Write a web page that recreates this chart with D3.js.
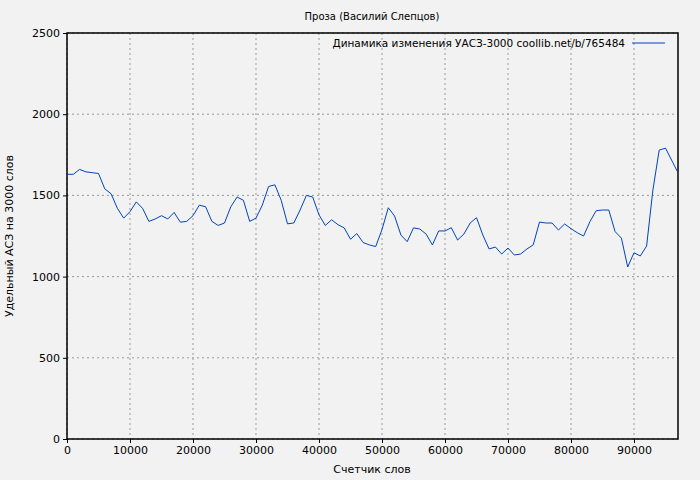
<!DOCTYPE html><html><head><meta charset="utf-8"><script src="https://cdn.jsdelivr.net/npm/d3@7"></script>
<style>body{margin:0;background:#fff}text{font-family:"DejaVu Sans",sans-serif}</style></head><body><svg id="c" width="700" height="480"></svg>
<script>
const xs=[0,1000,2000,3000,4000,5000,6000,7000,8000,9000,10000,11000,12000,13000,14000,15000,16000,17000,18000,19000,20000,21000,22000,23000,24000,25000,26000,27000,28000,29000,30000,31000,32000,33000,34000,35000,36000,37000,38000,39000,40000,41000,42000,43000,44000,45000,46000,47000,48000,49000,50000,51000,52000,53000,54000,55000,56000,57000,58000,59000,60000,61000,62000,63000,64000,65000,66000,67000,68000,69000,70000,71000,72000,73000,74000,75000,76000,77000,78000,79000,80000,81000,82000,83000,84000,85000,86000,87000,88000,89000,90000,91000,92000,93000,94000,95000,96900];
const vals=[1630,1630,1660,1645,1640,1635,1540,1510,1420,1360,1400,1460,1420,1340,1355,1375,1355,1395,1335,1340,1375,1440,1430,1340,1315,1330,1430,1490,1470,1340,1360,1440,1555,1565,1470,1325,1330,1410,1500,1490,1380,1315,1350,1320,1300,1230,1265,1210,1195,1185,1290,1424,1373,1256,1215,1300,1293,1262,1195,1281,1281,1301,1225,1262,1330,1363,1256,1170,1182,1139,1176,1133,1139,1170,1195,1336,1330,1330,1287,1324,1295,1270,1250,1338,1406,1410,1410,1277,1237,1059,1147,1127,1188,1533,1779,1791,1646];
const xTicks=[0,10000,20000,30000,40000,50000,60000,70000,80000,90000];
const yTicks=[0,500,1000,1500,2000,2500];
const svg=d3.select("#c");
const L=67,R=678,T=33,B=439;
svg.append("rect").attr("width",700).attr("height",480).attr("fill","#f2f2f2");
const x=d3.scaleLinear().domain([0,96984]).range([L,R]);
const y=d3.scaleLinear().domain([0,2500]).range([B,T]);
const g=svg.append("g");
xTicks.forEach(t=>g.append("line").attr("x1",x(t)).attr("x2",x(t)).attr("y1",T).attr("y2",B).attr("stroke","#999").attr("stroke-dasharray","2,3"));
yTicks.forEach(t=>g.append("line").attr("x1",L).attr("x2",R).attr("y1",y(t)).attr("y2",y(t)).attr("stroke","#999").attr("stroke-dasharray","2,3"));
svg.append("rect").attr("x",L).attr("y",T).attr("width",R-L).attr("height",B-T).attr("fill","none").attr("stroke","#000").attr("stroke-width",1.5);
const xa=svg.append("g").attr("transform",`translate(0,${B})`).call(d3.axisBottom(x).tickValues(xTicks).tickFormat(d3.format("d")).tickSize(4));
const ya=svg.append("g").attr("transform",`translate(${L},0)`).call(d3.axisLeft(y).tickValues(yTicks).tickFormat(d3.format("d")).tickSize(4));
[xa,ya].forEach(a=>{a.select(".domain").remove();a.selectAll("text").attr("font-size",11).attr("fill","#000").attr("font-family","DejaVu Sans");});
svg.append("path").datum(xs.map((d,i)=>[d,vals[i]])).attr("fill","none").attr("stroke","#0044bb").attr("stroke-width",1)
 .attr("d",d3.line().x(d=>x(d[0])).y(d=>y(d[1])));
svg.append("text").attr("x",372).attr("y",20).attr("text-anchor","middle").attr("font-size",10).text("Проза (Василий Слепцов)");
svg.append("text").attr("x",372).attr("y",473).attr("text-anchor","middle").attr("font-size",11).text("Счетчик слов");
svg.append("text").attr("transform","translate(13,236) rotate(-90)").attr("text-anchor","middle").attr("font-size",11).text("Удельный АСЗ на 3000 слов");
svg.append("text").attr("x",625).attr("y",47).attr("text-anchor","end").attr("font-size",10.5).text("Динамика изменения УАСЗ-3000 coollib.net/b/765484");
svg.append("line").attr("x1",632).attr("x2",665).attr("y1",43).attr("y2",43).attr("stroke","#0044bb");
</script></body></html>
